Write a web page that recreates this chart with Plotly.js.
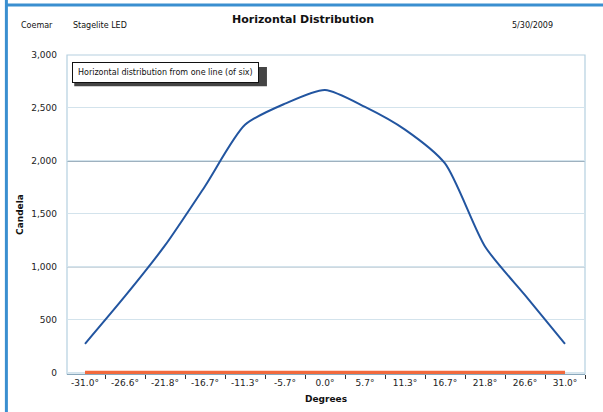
<!DOCTYPE html>
<html>
<head>
<meta charset="utf-8">
<script src="https://cdn.plot.ly/plotly-3.0.1.min.js"></script>
<style>
html,body{margin:0;padding:0;background:#fff;}
#chart{width:603px;height:412px;}
</style>
</head>
<body>
<div id="chart"></div>
<script>
const categories = ["-31.0°","-26.6°","-21.8°","-16.7°","-11.3°","-5.7°","0.0°","5.7°","11.3°","16.7°","21.8°","26.6°","31.0°"];
const candela = [270, 720, 1200, 1760, 2340, 2540, 2670, 2510, 2295, 1975, 1190, 730, 270];
const baseline = [0, 0, 0, 0, 0, 0, 0, 0, 0, 0, 0, 0, 0];
const yTickVals = [0, 500, 1000, 1500, 2000, 2500, 3000];
const yTickText = ["0", "500", "1,000", "1,500", "2,000", "2,500", "3,000"];
const darkGridValues = [1000, 2000];

const font = "Tahoma, 'DejaVu Sans', Verdana, sans-serif";

const traces = [
  {x: categories, y: baseline, type: "scatter", mode: "lines",
   line: {color: "#f26a3d", width: 3.5}, hoverinfo: "skip"},
  {x: categories, y: candela, type: "scatter", mode: "lines",
   line: {color: "#2255a0", width: 2, shape: "spline", smoothing: 0.7}}
];

const shapes = darkGridValues.map(v => ({
  type: "line", xref: "paper", x0: 0, x1: 1, yref: "y", y0: v, y1: v,
  line: {color: "#3f6580", width: 1.3}, layer: "between"
}));
// outer frame lines (left and top)
shapes.push({type: "line", xref: "paper", yref: "paper", x0: -0.117, x1: -0.117, y0: -0.15, y1: 1.18,
  line: {color: "#3a8fd0", width: 3}});
shapes.push({type: "line", xref: "paper", yref: "paper", x0: -0.117, x1: 1.05, y0: 1.157, y1: 1.157,
  line: {color: "#3a8fd0", width: 3}});
// plot frame
shapes.push({type: "rect", xref: "paper", yref: "paper", x0: 0, x1: 1, y0: 0, y1: 1,
  line: {color: "#b5d0e0", width: 1.2}, layer: "below"});
// shadow of the note box
shapes.push({type: "rect", xref: "paper", yref: "paper", x0: 0.014, x1: 0.386, y0: 0.902, y1: 0.962,
  fillcolor: "#444", line: {width: 0}});

const layout = {
  width: 603, height: 412,
  margin: {l: 67, r: 18, t: 55, b: 38},
  paper_bgcolor: "#fff", plot_bgcolor: "#fff",
  showlegend: false,
  font: {family: font, size: 9, color: "#222"},
  xaxis: {
    type: "category", range: [-0.45, 12.5],
    tickfont: {family: font, size: 9, color: "#222"},
    ticks: "outside", tickson: "boundaries", ticklen: 4, tickcolor: "#333",
    showgrid: false, showline: true, linecolor: "#8aa8bc", linewidth: 1.2,
    zeroline: false, fixedrange: true,
    title: {text: "<b>Degrees</b>", font: {family: font, size: 9, color: "#111"}, standoff: 8}
  },
  yaxis: {
    range: [-15, 3000], tickvals: yTickVals, ticktext: yTickText,
    tickfont: {family: font, size: 9, color: "#222"},
    showgrid: true, gridcolor: "#d3e3ec", gridwidth: 1,
    showline: false, zeroline: false, ticks: "", ticklen: 0,
    ticklabelstandoff: 9,
    fixedrange: true,
    title: {text: "<b>Candela</b>", font: {family: font, size: 9, color: "#111"}, standoff: 6}
  },
  shapes: shapes,
  annotations: [
    {text: "<b>Horizontal Distribution</b>", xref: "paper", yref: "paper", x: 0.456, y: 1.110,
     xanchor: "center", yanchor: "middle", showarrow: false, font: {family: font, size: 11, color: "#111"}},
    {text: "Coemar", xref: "paper", yref: "paper", x: -0.092, y: 1.094, xanchor: "left", yanchor: "middle",
     showarrow: false, font: {family: font, size: 8, color: "#111"}},
    {text: "Stagelite LED", xref: "paper", yref: "paper", x: 0.008, y: 1.094, xanchor: "left", yanchor: "middle",
     showarrow: false, font: {family: font, size: 8, color: "#111"}},
    {text: "5/30/2009", xref: "paper", yref: "paper", x: 0.898, y: 1.094, xanchor: "center", yanchor: "middle",
     showarrow: false, font: {family: font, size: 8, color: "#111"}},
    {text: "Horizontal distribution from one line (of six)", xref: "paper", yref: "paper",
     x: 0.01, y: 0.977, xanchor: "left", yanchor: "top", showarrow: false,
     font: {family: font, size: 8, color: "#111"},
     bgcolor: "#fff", bordercolor: "#111", borderwidth: 1, borderpad: 5}
  ]
};

Plotly.newPlot("chart", traces, layout, {displayModeBar: false, staticPlot: true});
</script>
</body>
</html>
